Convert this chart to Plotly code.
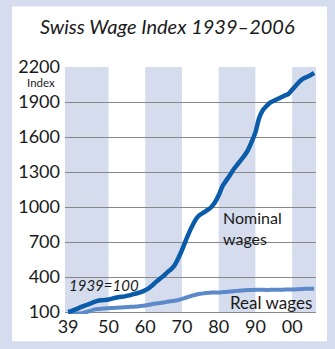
import plotly.graph_objects as go

years = list(range(1939, 2007))
nominal = [100, 110, 122, 135, 148, 160, 172, 185, 195, 200,
           203, 207, 215, 222, 228, 232, 238, 245, 255, 263,
           273, 287, 305, 330, 360, 385, 410, 440, 465, 500,
           560, 630, 710, 785, 850, 905, 935, 955, 975, 1000,
           1040, 1100, 1175, 1225, 1270, 1320, 1360, 1400, 1440, 1490,
           1560, 1640, 1760, 1830, 1865, 1895, 1910, 1925, 1940, 1955,
           1970, 2005, 2040, 2075, 2100, 2115, 2130, 2150]
real = [100, 95, 88, 87, 92, 100, 110, 120, 125, 128,
        130, 133, 134, 136, 138, 140, 142, 144, 146, 148,
        152, 156, 162, 168, 173, 177, 182, 187, 192, 197,
        203, 212, 222, 232, 242, 250, 256, 260, 264, 267,
        268, 268, 270, 272, 275, 278, 281, 284, 286, 288,
        289, 290, 291, 290, 289, 290, 290, 291, 291, 292,
        293, 292, 294, 296, 298, 299, 300, 300]

x_tickvals = [1939, 1950, 1960, 1970, 1980, 1990, 2000]
x_ticktext = ["39", "50", "60", "70", "80", "90", "00"]
y_tickvals = [100, 400, 700, 1000, 1300, 1600, 1900, 2200]
bands = [(1938.15, 1950), (1960, 1970), (1980, 1990), (2000, 2006.5)]

BAND = "#d4dcee"
FONT = "Lato"
TXT = "#1a1a1a"

fig = go.Figure()
fig.add_trace(go.Scatter(x=years, y=real, mode="lines",
                         line=dict(color="#5c89c9", width=4, shape="spline", smoothing=0.6),
                         hoverinfo="skip", showlegend=False))
fig.add_trace(go.Scatter(x=years, y=nominal, mode="lines",
                         line=dict(color="#0b5ca8", width=4.5, shape="spline", smoothing=0.6),
                         hoverinfo="skip", showlegend=False))

shapes = [dict(type="rect", xref="paper", yref="paper",
               x0=-0.211, x1=1.044, y0=-0.11, y1=1.245,
               fillcolor="white", line=dict(width=0), layer="below")]
for a, b in bands:
    shapes.append(dict(type="rect", xref="x", yref="y", x0=a, x1=b, y0=100, y1=2200,
                       fillcolor=BAND, line=dict(width=0), layer="below"))

fig.update_layout(
    width=335, height=349,
    margin=dict(l=65, r=19, t=67, b=35),
    paper_bgcolor=BAND, plot_bgcolor="white",
    font=dict(family=FONT, color=TXT, size=18),
    shapes=shapes,
    xaxis=dict(range=[1938.15, 2006.5], tickvals=x_tickvals, ticktext=x_ticktext,
               showgrid=False, zeroline=False, showline=False, ticks="",
               tickfont=dict(size=18, family=FONT, color=TXT)),
    yaxis=dict(range=[82.86, 2200], tickvals=y_tickvals, showgrid=True,
               gridcolor="#888888", gridwidth=1, zeroline=False, showline=False,
               ticks="", ticklabelstandoff=4,
               tickfont=dict(size=18, family=FONT, color=TXT)),
    annotations=[
        dict(text="<i>Swiss Wage Index 1939–2006</i>", xref="paper", yref="paper",
             x=(167 - 65) / 251, y=(314 - 26) / 247, xanchor="center", yanchor="middle",
             showarrow=False, font=dict(size=20, family=FONT, color=TXT)),
        dict(text="Index", xref="paper", yref="paper", x=-8 / 251, y=(314 - 83) / 247,
             xanchor="right", yanchor="middle", showarrow=False,
             font=dict(size=11.5, family=FONT, color=TXT)),
        dict(text="Nominal<br>wages", xref="x", yref="y", x=1980.6, y=1010,
             xanchor="left", yanchor="top", align="left", showarrow=False,
             font=dict(size=16, family=FONT, color=TXT)),
        dict(text="<i>1939=100</i>", xref="x", yref="y", x=1938.6, y=335,
             xanchor="left", yanchor="middle", showarrow=False,
             font=dict(size=15, family=FONT, color=TXT)),
        dict(text="Real wages", xref="x", yref="y", x=2005.9, y=185,
             xanchor="right", yanchor="middle", showarrow=False,
             font=dict(size=17, family=FONT, color=TXT)),
    ],
)

fig.write_html("out.html")
